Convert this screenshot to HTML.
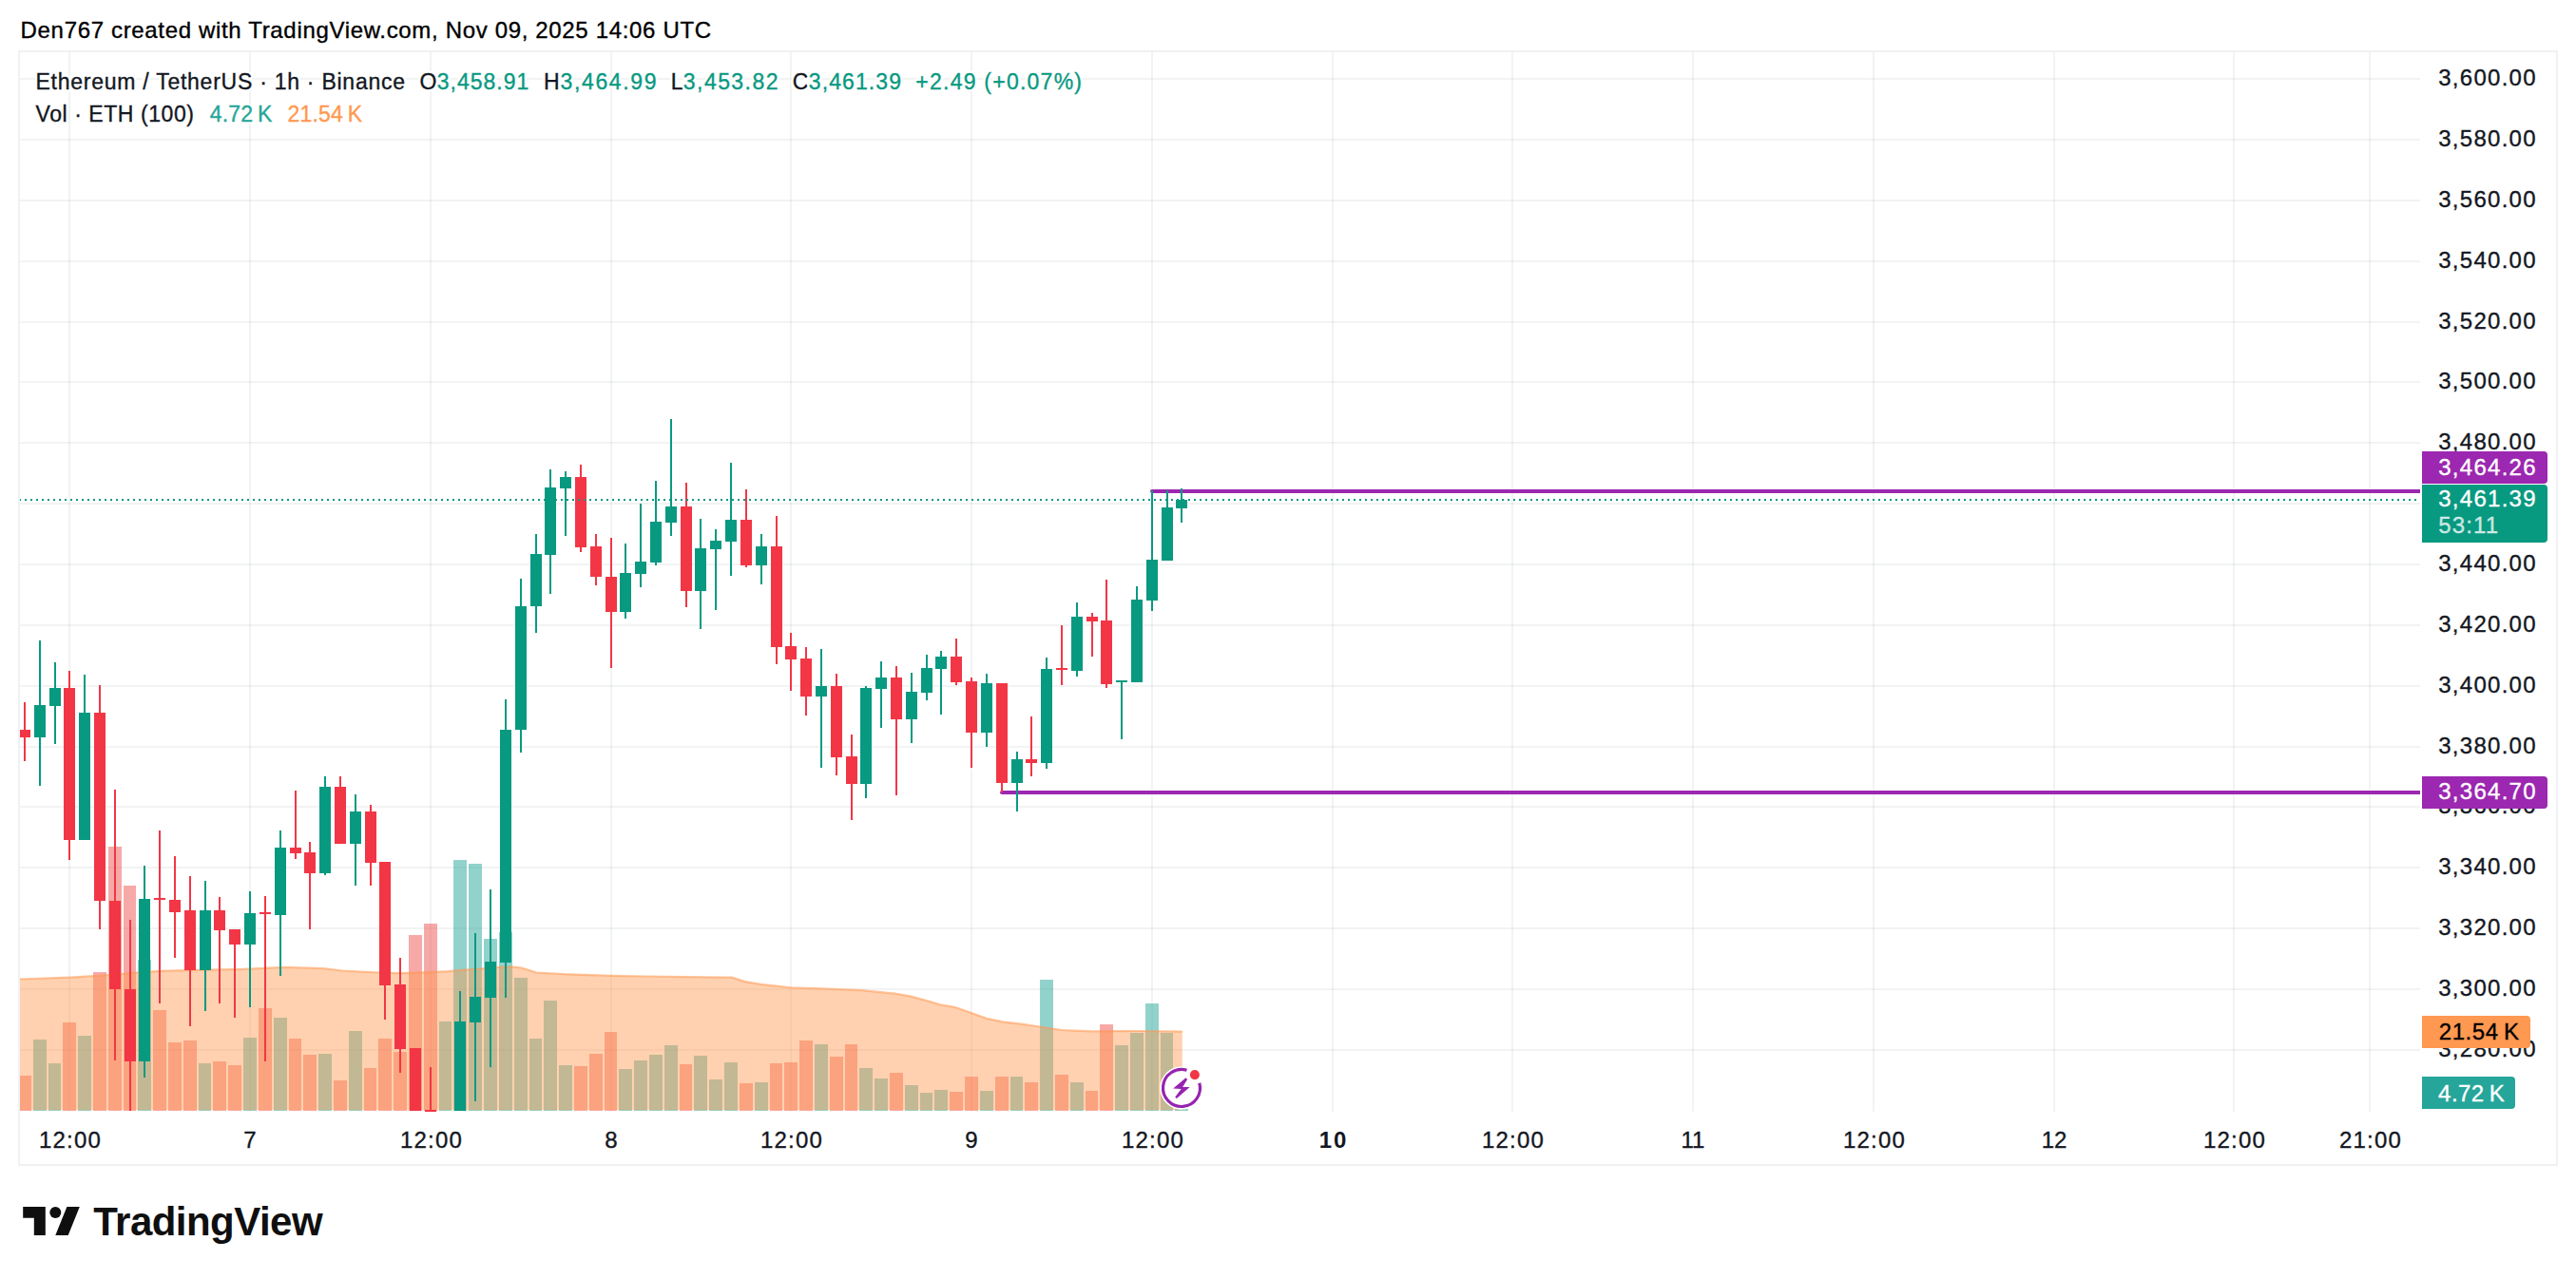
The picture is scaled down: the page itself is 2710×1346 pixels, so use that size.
<!DOCTYPE html>
<html lang="en"><head><meta charset="utf-8"><title>ETHUSDT chart</title>
<style>html,body{margin:0;padding:0;background:#fff}body{width:2710px;height:1346px}svg{display:block}</style>
</head><body>
<svg width="2710" height="1346" viewBox="0 0 2710 1346" font-family="'Liberation Sans', sans-serif">
<rect width="2710" height="1346" fill="#fff"/>
<g id="grid" fill="rgba(42,46,57,0.06)">
<rect x="21" y="82" width="2525" height="2"/>
<rect x="21" y="146" width="2525" height="2"/>
<rect x="21" y="210" width="2525" height="2"/>
<rect x="21" y="274" width="2525" height="2"/>
<rect x="21" y="338" width="2525" height="2"/>
<rect x="21" y="401" width="2525" height="2"/>
<rect x="21" y="465" width="2525" height="2"/>
<rect x="21" y="529" width="2525" height="2"/>
<rect x="21" y="593" width="2525" height="2"/>
<rect x="21" y="657" width="2525" height="2"/>
<rect x="21" y="721" width="2525" height="2"/>
<rect x="21" y="785" width="2525" height="2"/>
<rect x="21" y="848" width="2525" height="2"/>
<rect x="21" y="912" width="2525" height="2"/>
<rect x="21" y="976" width="2525" height="2"/>
<rect x="21" y="1040" width="2525" height="2"/>
<rect x="21" y="1104" width="2525" height="2"/>
<rect x="72" y="55" width="2" height="1115"/>
<rect x="262" y="55" width="2" height="1115"/>
<rect x="452" y="55" width="2" height="1115"/>
<rect x="642" y="55" width="2" height="1115"/>
<rect x="831" y="55" width="2" height="1115"/>
<rect x="1021" y="55" width="2" height="1115"/>
<rect x="1211" y="55" width="2" height="1115"/>
<rect x="1401" y="55" width="2" height="1115"/>
<rect x="1590" y="55" width="2" height="1115"/>
<rect x="1780" y="55" width="2" height="1115"/>
<rect x="1970" y="55" width="2" height="1115"/>
<rect x="2160" y="55" width="2" height="1115"/>
<rect x="2349" y="55" width="2" height="1115"/>
<rect x="2492" y="55" width="2" height="1115"/>
</g>
<g id="vol">
<rect x="21" y="1132" width="12" height="37" fill="rgba(239,83,80,0.5)"/>
<rect x="35" y="1094" width="14" height="75" fill="rgba(38,166,154,0.5)"/>
<rect x="51" y="1119" width="13" height="50" fill="rgba(38,166,154,0.5)"/>
<rect x="66" y="1076" width="14" height="93" fill="rgba(239,83,80,0.5)"/>
<rect x="82" y="1090" width="14" height="79" fill="rgba(38,166,154,0.5)"/>
<rect x="98" y="1023" width="14" height="146" fill="rgba(239,83,80,0.5)"/>
<rect x="114" y="891" width="14" height="278" fill="rgba(239,83,80,0.5)"/>
<rect x="130" y="932" width="13" height="237" fill="rgba(239,83,80,0.5)"/>
<rect x="145" y="1010" width="14" height="159" fill="rgba(38,166,154,0.5)"/>
<rect x="161" y="1063" width="14" height="106" fill="rgba(239,83,80,0.5)"/>
<rect x="177" y="1097" width="14" height="72" fill="rgba(239,83,80,0.5)"/>
<rect x="193" y="1095" width="14" height="74" fill="rgba(239,83,80,0.5)"/>
<rect x="209" y="1119" width="13" height="50" fill="rgba(38,166,154,0.5)"/>
<rect x="224" y="1117" width="14" height="52" fill="rgba(239,83,80,0.5)"/>
<rect x="240" y="1121" width="14" height="48" fill="rgba(239,83,80,0.5)"/>
<rect x="256" y="1092" width="14" height="77" fill="rgba(38,166,154,0.5)"/>
<rect x="272" y="1061" width="14" height="108" fill="rgba(239,83,80,0.5)"/>
<rect x="288" y="1071" width="14" height="98" fill="rgba(38,166,154,0.5)"/>
<rect x="304" y="1093" width="13" height="76" fill="rgba(239,83,80,0.5)"/>
<rect x="319" y="1110" width="14" height="59" fill="rgba(239,83,80,0.5)"/>
<rect x="335" y="1109" width="14" height="60" fill="rgba(38,166,154,0.5)"/>
<rect x="351" y="1137" width="14" height="32" fill="rgba(239,83,80,0.5)"/>
<rect x="367" y="1085" width="14" height="84" fill="rgba(38,166,154,0.5)"/>
<rect x="383" y="1124" width="13" height="45" fill="rgba(239,83,80,0.5)"/>
<rect x="398" y="1093" width="14" height="76" fill="rgba(239,83,80,0.5)"/>
<rect x="414" y="1107" width="14" height="62" fill="rgba(239,83,80,0.5)"/>
<rect x="430" y="984" width="14" height="185" fill="rgba(239,83,80,0.5)"/>
<rect x="446" y="972" width="14" height="197" fill="rgba(239,83,80,0.5)"/>
<rect x="462" y="1075" width="13" height="94" fill="rgba(38,166,154,0.5)"/>
<rect x="477" y="905" width="14" height="264" fill="rgba(38,166,154,0.5)"/>
<rect x="493" y="909" width="14" height="260" fill="rgba(38,166,154,0.5)"/>
<rect x="509" y="988" width="14" height="181" fill="rgba(38,166,154,0.5)"/>
<rect x="525" y="981" width="14" height="188" fill="rgba(38,166,154,0.5)"/>
<rect x="541" y="1029" width="14" height="140" fill="rgba(38,166,154,0.5)"/>
<rect x="557" y="1093" width="13" height="76" fill="rgba(38,166,154,0.5)"/>
<rect x="572" y="1053" width="14" height="116" fill="rgba(38,166,154,0.5)"/>
<rect x="588" y="1121" width="14" height="48" fill="rgba(38,166,154,0.5)"/>
<rect x="604" y="1122" width="14" height="47" fill="rgba(239,83,80,0.5)"/>
<rect x="620" y="1109" width="14" height="60" fill="rgba(239,83,80,0.5)"/>
<rect x="636" y="1086" width="13" height="83" fill="rgba(239,83,80,0.5)"/>
<rect x="651" y="1125" width="14" height="44" fill="rgba(38,166,154,0.5)"/>
<rect x="667" y="1116" width="14" height="53" fill="rgba(38,166,154,0.5)"/>
<rect x="683" y="1110" width="14" height="59" fill="rgba(38,166,154,0.5)"/>
<rect x="699" y="1100" width="14" height="69" fill="rgba(38,166,154,0.5)"/>
<rect x="715" y="1120" width="13" height="49" fill="rgba(239,83,80,0.5)"/>
<rect x="730" y="1111" width="14" height="58" fill="rgba(38,166,154,0.5)"/>
<rect x="746" y="1136" width="14" height="33" fill="rgba(38,166,154,0.5)"/>
<rect x="762" y="1118" width="14" height="51" fill="rgba(38,166,154,0.5)"/>
<rect x="778" y="1140" width="14" height="29" fill="rgba(239,83,80,0.5)"/>
<rect x="794" y="1139" width="14" height="30" fill="rgba(38,166,154,0.5)"/>
<rect x="810" y="1119" width="13" height="50" fill="rgba(239,83,80,0.5)"/>
<rect x="825" y="1118" width="14" height="51" fill="rgba(239,83,80,0.5)"/>
<rect x="841" y="1095" width="14" height="74" fill="rgba(239,83,80,0.5)"/>
<rect x="857" y="1099" width="14" height="70" fill="rgba(38,166,154,0.5)"/>
<rect x="873" y="1112" width="14" height="57" fill="rgba(239,83,80,0.5)"/>
<rect x="889" y="1099" width="13" height="70" fill="rgba(239,83,80,0.5)"/>
<rect x="904" y="1124" width="14" height="45" fill="rgba(38,166,154,0.5)"/>
<rect x="920" y="1135" width="14" height="34" fill="rgba(38,166,154,0.5)"/>
<rect x="936" y="1129" width="14" height="40" fill="rgba(239,83,80,0.5)"/>
<rect x="952" y="1142" width="14" height="27" fill="rgba(38,166,154,0.5)"/>
<rect x="968" y="1150" width="13" height="19" fill="rgba(38,166,154,0.5)"/>
<rect x="983" y="1147" width="14" height="22" fill="rgba(38,166,154,0.5)"/>
<rect x="999" y="1149" width="14" height="20" fill="rgba(239,83,80,0.5)"/>
<rect x="1015" y="1133" width="14" height="36" fill="rgba(239,83,80,0.5)"/>
<rect x="1031" y="1148" width="14" height="21" fill="rgba(38,166,154,0.5)"/>
<rect x="1047" y="1133" width="14" height="36" fill="rgba(239,83,80,0.5)"/>
<rect x="1063" y="1133" width="13" height="36" fill="rgba(38,166,154,0.5)"/>
<rect x="1078" y="1139" width="14" height="30" fill="rgba(239,83,80,0.5)"/>
<rect x="1094" y="1031" width="14" height="138" fill="rgba(38,166,154,0.5)"/>
<rect x="1110" y="1131" width="14" height="38" fill="rgba(239,83,80,0.5)"/>
<rect x="1126" y="1139" width="14" height="30" fill="rgba(38,166,154,0.5)"/>
<rect x="1142" y="1148" width="13" height="21" fill="rgba(239,83,80,0.5)"/>
<rect x="1157" y="1078" width="14" height="91" fill="rgba(239,83,80,0.5)"/>
<rect x="1173" y="1100" width="14" height="69" fill="rgba(38,166,154,0.5)"/>
<rect x="1189" y="1087" width="14" height="82" fill="rgba(38,166,154,0.5)"/>
<rect x="1205" y="1056" width="14" height="113" fill="rgba(38,166,154,0.5)"/>
<rect x="1221" y="1087" width="13" height="82" fill="rgba(38,166,154,0.5)"/>
<rect x="1236" y="1167" width="14" height="2" fill="rgba(38,166,154,0.5)"/>
</g>
<polygon points="20.0,1030.5 73.4,1028.6 107.0,1026.7 144.0,1023.6 169.0,1021.8 206.0,1020.8 256.0,1019.9 299.5,1017.9 340.0,1019.2 359.8,1021.5 379.6,1022.7 399.4,1023.5 419.2,1024.2 432.4,1023.8 452.2,1023.1 472.0,1022.2 485.2,1020.9 505.0,1019.5 524.8,1017.8 538.0,1017.4 548.6,1018.5 564.4,1023.5 597.4,1025.3 643.6,1026.8 680.0,1027.5 769.8,1028.6 783.8,1033.1 800.7,1035.9 832.0,1039.4 864.0,1040.4 882.3,1041.2 906.3,1042.2 941.5,1045.7 958.3,1048.6 976.6,1053.5 990.7,1057.7 1005.5,1060.2 1022.0,1066.1 1037.8,1071.8 1054.7,1075.3 1074.4,1077.7 1094.0,1080.5 1116.7,1084.0 1130.7,1084.7 1149.0,1085.4 1173.0,1085.1 1201.0,1085.0 1243.8,1085.6 1243.8,1168.3 21,1168.3" fill="rgba(255,152,80,0.45)"/>
<polyline points="20.0,1030.5 73.4,1028.6 107.0,1026.7 144.0,1023.6 169.0,1021.8 206.0,1020.8 256.0,1019.9 299.5,1017.9 340.0,1019.2 359.8,1021.5 379.6,1022.7 399.4,1023.5 419.2,1024.2 432.4,1023.8 452.2,1023.1 472.0,1022.2 485.2,1020.9 505.0,1019.5 524.8,1017.8 538.0,1017.4 548.6,1018.5 564.4,1023.5 597.4,1025.3 643.6,1026.8 680.0,1027.5 769.8,1028.6 783.8,1033.1 800.7,1035.9 832.0,1039.4 864.0,1040.4 882.3,1041.2 906.3,1042.2 941.5,1045.7 958.3,1048.6 976.6,1053.5 990.7,1057.7 1005.5,1060.2 1022.0,1066.1 1037.8,1071.8 1054.7,1075.3 1074.4,1077.7 1094.0,1080.5 1116.7,1084.0 1130.7,1084.7 1149.0,1085.4 1173.0,1085.1 1201.0,1085.0 1243.8,1085.6" fill="none" stroke="rgba(255,152,80,0.55)" stroke-width="2.2" stroke-linejoin="round"/>
<path d="M1212 515 H2546 V519 H1212 A2 2 0 0 1 1212 515 Z" fill="#9c27b0"/>
<path d="M1054 832 H2546 V836 H1054 A2 2 0 0 1 1054 832 Z" fill="#9c27b0"/>
<g id="candles">
<rect x="25.0" y="739.0" width="2" height="62.0" fill="#f23645"/>
<rect x="21.0" y="768.0" width="11.0" height="8.0" fill="#f23645"/>
<rect x="41.0" y="674.0" width="2" height="153.0" fill="#089981"/>
<rect x="36.0" y="742.0" width="12.0" height="34.0" fill="#089981"/>
<rect x="57.0" y="697.0" width="2" height="86.0" fill="#089981"/>
<rect x="52.0" y="724.0" width="12.0" height="19.0" fill="#089981"/>
<rect x="72.0" y="706.0" width="2" height="199.0" fill="#f23645"/>
<rect x="67.0" y="724.0" width="12.0" height="160.0" fill="#f23645"/>
<rect x="88.0" y="710.0" width="2" height="174.0" fill="#089981"/>
<rect x="83.0" y="750.0" width="12.0" height="134.0" fill="#089981"/>
<rect x="104.0" y="721.0" width="2" height="257.0" fill="#f23645"/>
<rect x="99.0" y="750.0" width="12.0" height="198.0" fill="#f23645"/>
<rect x="120.0" y="831.0" width="2" height="285.0" fill="#f23645"/>
<rect x="115.0" y="948.0" width="12.0" height="93.0" fill="#f23645"/>
<rect x="136.0" y="968.0" width="2" height="201.0" fill="#f23645"/>
<rect x="131.0" y="1041.0" width="12.0" height="76.0" fill="#f23645"/>
<rect x="151.0" y="911.0" width="2" height="223.0" fill="#089981"/>
<rect x="146.0" y="946.0" width="12.0" height="171.0" fill="#089981"/>
<rect x="167.0" y="874.0" width="2" height="182.0" fill="#f23645"/>
<rect x="162.0" y="945.0" width="12.0" height="2.0" fill="#f23645"/>
<rect x="183.0" y="901.0" width="2" height="107.0" fill="#f23645"/>
<rect x="178.0" y="947.0" width="12.0" height="13.0" fill="#f23645"/>
<rect x="199.0" y="922.0" width="2" height="158.0" fill="#f23645"/>
<rect x="194.0" y="958.0" width="12.0" height="63.0" fill="#f23645"/>
<rect x="215.0" y="927.0" width="2" height="137.0" fill="#089981"/>
<rect x="210.0" y="958.0" width="12.0" height="63.0" fill="#089981"/>
<rect x="230.0" y="944.0" width="2" height="112.0" fill="#f23645"/>
<rect x="225.0" y="958.0" width="12.0" height="21.0" fill="#f23645"/>
<rect x="246.0" y="978.0" width="2" height="93.0" fill="#f23645"/>
<rect x="241.0" y="978.0" width="12.0" height="16.0" fill="#f23645"/>
<rect x="262.0" y="938.0" width="2" height="122.0" fill="#089981"/>
<rect x="257.0" y="961.0" width="12.0" height="33.0" fill="#089981"/>
<rect x="278.0" y="943.0" width="2" height="174.0" fill="#f23645"/>
<rect x="273.0" y="960.0" width="12.0" height="2.0" fill="#f23645"/>
<rect x="294.0" y="874.0" width="2" height="153.0" fill="#089981"/>
<rect x="289.0" y="892.0" width="12.0" height="71.0" fill="#089981"/>
<rect x="310.0" y="832.0" width="2" height="72.0" fill="#f23645"/>
<rect x="305.0" y="892.0" width="12.0" height="6.0" fill="#f23645"/>
<rect x="325.0" y="886.0" width="2" height="92.0" fill="#f23645"/>
<rect x="320.0" y="897.0" width="12.0" height="22.0" fill="#f23645"/>
<rect x="341.0" y="817.0" width="2" height="104.0" fill="#089981"/>
<rect x="336.0" y="828.0" width="12.0" height="91.0" fill="#089981"/>
<rect x="357.0" y="817.0" width="2" height="71.0" fill="#f23645"/>
<rect x="352.0" y="828.0" width="12.0" height="60.0" fill="#f23645"/>
<rect x="373.0" y="836.0" width="2" height="96.0" fill="#089981"/>
<rect x="368.0" y="854.0" width="12.0" height="34.0" fill="#089981"/>
<rect x="389.0" y="847.0" width="2" height="85.0" fill="#f23645"/>
<rect x="384.0" y="854.0" width="12.0" height="54.0" fill="#f23645"/>
<rect x="404.0" y="907.0" width="2" height="166.0" fill="#f23645"/>
<rect x="399.0" y="907.0" width="12.0" height="130.0" fill="#f23645"/>
<rect x="420.0" y="1008.0" width="2" height="121.0" fill="#f23645"/>
<rect x="415.0" y="1036.0" width="12.0" height="68.0" fill="#f23645"/>
<rect x="436.0" y="1103.0" width="2" height="66.0" fill="#f23645"/>
<rect x="431.0" y="1103.0" width="12.0" height="66.0" fill="#f23645"/>
<rect x="452.0" y="1123.0" width="2" height="47.0" fill="#f23645"/>
<rect x="447.0" y="1168.0" width="12.0" height="2.0" fill="#f23645"/>
<rect x="483.0" y="1043.0" width="2" height="126.0" fill="#089981"/>
<rect x="478.0" y="1075.0" width="12.0" height="94.0" fill="#089981"/>
<rect x="499.0" y="982.0" width="2" height="177.0" fill="#089981"/>
<rect x="494.0" y="1049.0" width="12.0" height="27.0" fill="#089981"/>
<rect x="515.0" y="936.0" width="2" height="187.0" fill="#089981"/>
<rect x="510.0" y="1012.0" width="12.0" height="38.0" fill="#089981"/>
<rect x="531.0" y="736.0" width="2" height="314.0" fill="#089981"/>
<rect x="526.0" y="768.0" width="12.0" height="245.0" fill="#089981"/>
<rect x="547.0" y="609.0" width="2" height="183.0" fill="#089981"/>
<rect x="542.0" y="638.0" width="12.0" height="130.0" fill="#089981"/>
<rect x="563.0" y="562.0" width="2" height="104.0" fill="#089981"/>
<rect x="558.0" y="583.0" width="12.0" height="55.0" fill="#089981"/>
<rect x="578.0" y="494.0" width="2" height="131.0" fill="#089981"/>
<rect x="573.0" y="513.0" width="12.0" height="71.0" fill="#089981"/>
<rect x="594.0" y="496.0" width="2" height="68.0" fill="#089981"/>
<rect x="589.0" y="502.0" width="12.0" height="12.0" fill="#089981"/>
<rect x="610.0" y="489.0" width="2" height="92.0" fill="#f23645"/>
<rect x="605.0" y="502.0" width="12.0" height="74.0" fill="#f23645"/>
<rect x="626.0" y="562.0" width="2" height="54.0" fill="#f23645"/>
<rect x="621.0" y="575.0" width="12.0" height="32.0" fill="#f23645"/>
<rect x="642.0" y="566.0" width="2" height="137.0" fill="#f23645"/>
<rect x="637.0" y="607.0" width="12.0" height="37.0" fill="#f23645"/>
<rect x="657.0" y="572.0" width="2" height="79.0" fill="#089981"/>
<rect x="652.0" y="603.0" width="12.0" height="41.0" fill="#089981"/>
<rect x="673.0" y="530.0" width="2" height="88.0" fill="#089981"/>
<rect x="668.0" y="591.0" width="12.0" height="13.0" fill="#089981"/>
<rect x="689.0" y="506.0" width="2" height="89.0" fill="#089981"/>
<rect x="684.0" y="549.0" width="12.0" height="43.0" fill="#089981"/>
<rect x="705.0" y="441.0" width="2" height="123.0" fill="#089981"/>
<rect x="700.0" y="533.0" width="12.0" height="17.0" fill="#089981"/>
<rect x="721.0" y="508.0" width="2" height="131.0" fill="#f23645"/>
<rect x="716.0" y="533.0" width="12.0" height="89.0" fill="#f23645"/>
<rect x="736.0" y="546.0" width="2" height="116.0" fill="#089981"/>
<rect x="731.0" y="577.0" width="12.0" height="45.0" fill="#089981"/>
<rect x="752.0" y="557.0" width="2" height="85.0" fill="#089981"/>
<rect x="747.0" y="569.0" width="12.0" height="9.0" fill="#089981"/>
<rect x="768.0" y="487.0" width="2" height="119.0" fill="#089981"/>
<rect x="763.0" y="547.0" width="12.0" height="23.0" fill="#089981"/>
<rect x="784.0" y="515.0" width="2" height="82.0" fill="#f23645"/>
<rect x="779.0" y="547.0" width="12.0" height="48.0" fill="#f23645"/>
<rect x="800.0" y="562.0" width="2" height="53.0" fill="#089981"/>
<rect x="795.0" y="575.0" width="12.0" height="20.0" fill="#089981"/>
<rect x="816.0" y="543.0" width="2" height="156.0" fill="#f23645"/>
<rect x="811.0" y="575.0" width="12.0" height="106.0" fill="#f23645"/>
<rect x="831.0" y="666.0" width="2" height="61.0" fill="#f23645"/>
<rect x="826.0" y="680.0" width="12.0" height="14.0" fill="#f23645"/>
<rect x="847.0" y="681.0" width="2" height="72.0" fill="#f23645"/>
<rect x="842.0" y="693.0" width="12.0" height="40.0" fill="#f23645"/>
<rect x="863.0" y="683.0" width="2" height="125.0" fill="#089981"/>
<rect x="858.0" y="722.0" width="12.0" height="11.0" fill="#089981"/>
<rect x="879.0" y="709.0" width="2" height="107.0" fill="#f23645"/>
<rect x="874.0" y="722.0" width="12.0" height="75.0" fill="#f23645"/>
<rect x="895.0" y="773.0" width="2" height="90.0" fill="#f23645"/>
<rect x="890.0" y="796.0" width="12.0" height="29.0" fill="#f23645"/>
<rect x="910.0" y="722.0" width="2" height="118.0" fill="#089981"/>
<rect x="905.0" y="724.0" width="12.0" height="101.0" fill="#089981"/>
<rect x="926.0" y="696.0" width="2" height="70.0" fill="#089981"/>
<rect x="921.0" y="713.0" width="12.0" height="12.0" fill="#089981"/>
<rect x="942.0" y="701.0" width="2" height="136.0" fill="#f23645"/>
<rect x="937.0" y="713.0" width="12.0" height="44.0" fill="#f23645"/>
<rect x="958.0" y="708.0" width="2" height="74.0" fill="#089981"/>
<rect x="953.0" y="728.0" width="12.0" height="29.0" fill="#089981"/>
<rect x="974.0" y="689.0" width="2" height="48.0" fill="#089981"/>
<rect x="969.0" y="703.0" width="12.0" height="26.0" fill="#089981"/>
<rect x="989.0" y="685.0" width="2" height="67.0" fill="#089981"/>
<rect x="984.0" y="691.0" width="12.0" height="13.0" fill="#089981"/>
<rect x="1005.0" y="672.0" width="2" height="49.0" fill="#f23645"/>
<rect x="1000.0" y="691.0" width="12.0" height="27.0" fill="#f23645"/>
<rect x="1021.0" y="713.0" width="2" height="95.0" fill="#f23645"/>
<rect x="1016.0" y="717.0" width="12.0" height="54.0" fill="#f23645"/>
<rect x="1037.0" y="709.0" width="2" height="77.0" fill="#089981"/>
<rect x="1032.0" y="719.0" width="12.0" height="52.0" fill="#089981"/>
<rect x="1053.0" y="719.0" width="2" height="115.0" fill="#f23645"/>
<rect x="1048.0" y="719.0" width="12.0" height="105.0" fill="#f23645"/>
<rect x="1069.0" y="791.0" width="2" height="63.0" fill="#089981"/>
<rect x="1064.0" y="799.0" width="12.0" height="25.0" fill="#089981"/>
<rect x="1084.0" y="754.0" width="2" height="63.0" fill="#f23645"/>
<rect x="1079.0" y="799.0" width="12.0" height="4.0" fill="#f23645"/>
<rect x="1100.0" y="692.0" width="2" height="117.0" fill="#089981"/>
<rect x="1095.0" y="704.0" width="12.0" height="99.0" fill="#089981"/>
<rect x="1116.0" y="658.0" width="2" height="63.0" fill="#f23645"/>
<rect x="1111.0" y="703.0" width="12.0" height="2.0" fill="#f23645"/>
<rect x="1132.0" y="634.0" width="2" height="78.0" fill="#089981"/>
<rect x="1127.0" y="649.0" width="12.0" height="57.0" fill="#089981"/>
<rect x="1148.0" y="645.0" width="2" height="46.0" fill="#f23645"/>
<rect x="1143.0" y="649.0" width="12.0" height="5.0" fill="#f23645"/>
<rect x="1163.0" y="610.0" width="2" height="114.0" fill="#f23645"/>
<rect x="1158.0" y="653.0" width="12.0" height="67.0" fill="#f23645"/>
<rect x="1179.0" y="716.0" width="2" height="62.0" fill="#089981"/>
<rect x="1174.0" y="716.0" width="12.0" height="2.0" fill="#089981"/>
<rect x="1195.0" y="617.0" width="2" height="101.0" fill="#089981"/>
<rect x="1190.0" y="631.0" width="12.0" height="87.0" fill="#089981"/>
<rect x="1211.0" y="516.0" width="2" height="127.0" fill="#089981"/>
<rect x="1206.0" y="589.0" width="12.0" height="43.0" fill="#089981"/>
<rect x="1227.0" y="516.0" width="2" height="74.0" fill="#089981"/>
<rect x="1222.0" y="534.0" width="12.0" height="56.0" fill="#089981"/>
<rect x="1242.0" y="514.0" width="2" height="36.0" fill="#089981"/>
<rect x="1237.0" y="526.0" width="12.0" height="9.0" fill="#089981"/>
</g>
<line x1="20" y1="526" x2="2546" y2="526" stroke="#089981" stroke-width="2" stroke-dasharray="2 4"/>
<g id="flash">
<circle cx="1243" cy="1145" r="22.7" fill="#fff"/>
<path d="M1248.54 1126.30 A19.5 19.5 0 1 0 1261.79 1139.79" fill="none" stroke="#9624b0" stroke-width="3.2"/>
<circle cx="1256.9" cy="1131.1" r="8.3" fill="#fff"/>
<path d="M1247.5 1134.3 L1234.2 1145.5 L1242.7 1145.9 L1236.2 1154.5 L1237.9 1156 L1251.7 1144.1 L1244.1 1144 L1249.1 1135.9 Z" fill="#9624b0"/>
<circle cx="1256.9" cy="1131.1" r="5.05" fill="#f23645"/>
</g>
<rect x="20" y="54" width="2670" height="1172" fill="none" stroke="#f0f1f2" stroke-width="2"/>
<text x="21.6" y="40.0" font-size="24" fill="#000" textLength="726.5" lengthAdjust="spacing" stroke="#000" stroke-width="0.35">Den767 created with TradingView.com, Nov 09, 2025 14:06 UTC</text>
<use href="#lg1" fill="#fff" stroke="#fff" stroke-width="5" stroke-linejoin="round"/>
<g fill="#131722" stroke="#131722" stroke-width="0.35"><text id="lg1" x="37.5" y="94.0" font-size="23" textLength="388.5" lengthAdjust="spacing">Ethereum / TetherUS · 1h · Binance</text></g>
<use href="#lg2" fill="#fff" stroke="#fff" stroke-width="5" stroke-linejoin="round"/>
<g fill="#131722" stroke="#131722" stroke-width="0.35"><text id="lg2" x="441.6" y="94.0" font-size="23" textLength="17.5" lengthAdjust="spacing">O</text></g>
<use href="#lg3" fill="#fff" stroke="#fff" stroke-width="5" stroke-linejoin="round"/>
<g fill="#089981" stroke="#089981" stroke-width="0.35"><text id="lg3" x="459.8" y="94.0" font-size="23" textLength="96.5" lengthAdjust="spacing">3,458.91</text></g>
<use href="#lg4" fill="#fff" stroke="#fff" stroke-width="5" stroke-linejoin="round"/>
<g fill="#131722" stroke="#131722" stroke-width="0.35"><text id="lg4" x="572.0" y="94.0" font-size="23" textLength="16.5" lengthAdjust="spacing">H</text></g>
<use href="#lg5" fill="#fff" stroke="#fff" stroke-width="5" stroke-linejoin="round"/>
<g fill="#089981" stroke="#089981" stroke-width="0.35"><text id="lg5" x="589.5" y="94.0" font-size="23" textLength="101.0" lengthAdjust="spacing">3,464.99</text></g>
<use href="#lg6" fill="#fff" stroke="#fff" stroke-width="5" stroke-linejoin="round"/>
<g fill="#131722" stroke="#131722" stroke-width="0.35"><text id="lg6" x="705.7" y="94.0" font-size="23">L</text></g>
<use href="#lg7" fill="#fff" stroke="#fff" stroke-width="5" stroke-linejoin="round"/>
<g fill="#089981" stroke="#089981" stroke-width="0.35"><text id="lg7" x="718.8" y="94.0" font-size="23" textLength="99.7" lengthAdjust="spacing">3,453.82</text></g>
<use href="#lg8" fill="#fff" stroke="#fff" stroke-width="5" stroke-linejoin="round"/>
<g fill="#131722" stroke="#131722" stroke-width="0.35"><text id="lg8" x="833.8" y="94.0" font-size="23">C</text></g>
<use href="#lg9" fill="#fff" stroke="#fff" stroke-width="5" stroke-linejoin="round"/>
<g fill="#089981" stroke="#089981" stroke-width="0.35"><text id="lg9" x="850.8" y="94.0" font-size="23" textLength="97.2" lengthAdjust="spacing">3,461.39</text></g>
<use href="#lg10" fill="#fff" stroke="#fff" stroke-width="5" stroke-linejoin="round"/>
<g fill="#089981" stroke="#089981" stroke-width="0.35"><text id="lg10" x="963.3" y="94.0" font-size="23" textLength="174.7" lengthAdjust="spacing">+2.49 (+0.07%)</text></g>
<use href="#lg11" fill="#fff" stroke="#fff" stroke-width="5" stroke-linejoin="round"/>
<g fill="#131722" stroke="#131722" stroke-width="0.35"><text id="lg11" x="37.5" y="127.6" font-size="23" textLength="166.5" lengthAdjust="spacing">Vol · ETH (100)</text></g>
<use href="#lg12" fill="#fff" stroke="#fff" stroke-width="5" stroke-linejoin="round"/>
<g fill="#26a69a" stroke="#26a69a" stroke-width="0.35"><text id="lg12" x="220.8" y="127.6" font-size="23" textLength="65.5" lengthAdjust="spacing">4.72 K</text></g>
<use href="#lg13" fill="#fff" stroke="#fff" stroke-width="5" stroke-linejoin="round"/>
<g fill="#ff9850" stroke="#ff9850" stroke-width="0.35"><text id="lg13" x="302.6" y="127.6" font-size="23" textLength="78.5" lengthAdjust="spacing">21.54 K</text></g>
<text x="2565.2" y="90.1" font-size="24" fill="#131722" textLength="102.4" lengthAdjust="spacing" stroke="#131722" stroke-width="0.35">3,600.00</text>
<text x="2565.2" y="154.1" font-size="24" fill="#131722" textLength="102.4" lengthAdjust="spacing" stroke="#131722" stroke-width="0.35">3,580.00</text>
<text x="2565.2" y="218.1" font-size="24" fill="#131722" textLength="102.4" lengthAdjust="spacing" stroke="#131722" stroke-width="0.35">3,560.00</text>
<text x="2565.2" y="282.1" font-size="24" fill="#131722" textLength="102.4" lengthAdjust="spacing" stroke="#131722" stroke-width="0.35">3,540.00</text>
<text x="2565.2" y="346.1" font-size="24" fill="#131722" textLength="102.4" lengthAdjust="spacing" stroke="#131722" stroke-width="0.35">3,520.00</text>
<text x="2565.2" y="409.1" font-size="24" fill="#131722" textLength="102.4" lengthAdjust="spacing" stroke="#131722" stroke-width="0.35">3,500.00</text>
<text x="2565.2" y="473.1" font-size="24" fill="#131722" textLength="102.4" lengthAdjust="spacing" stroke="#131722" stroke-width="0.35">3,480.00</text>
<text x="2565.2" y="601.1" font-size="24" fill="#131722" textLength="102.4" lengthAdjust="spacing" stroke="#131722" stroke-width="0.35">3,440.00</text>
<text x="2565.2" y="665.1" font-size="24" fill="#131722" textLength="102.4" lengthAdjust="spacing" stroke="#131722" stroke-width="0.35">3,420.00</text>
<text x="2565.2" y="729.1" font-size="24" fill="#131722" textLength="102.4" lengthAdjust="spacing" stroke="#131722" stroke-width="0.35">3,400.00</text>
<text x="2565.2" y="793.1" font-size="24" fill="#131722" textLength="102.4" lengthAdjust="spacing" stroke="#131722" stroke-width="0.35">3,380.00</text>
<text x="2565.2" y="856.1" font-size="24" fill="#131722" textLength="102.4" lengthAdjust="spacing" stroke="#131722" stroke-width="0.35">3,360.00</text>
<text x="2565.2" y="920.1" font-size="24" fill="#131722" textLength="102.4" lengthAdjust="spacing" stroke="#131722" stroke-width="0.35">3,340.00</text>
<text x="2565.2" y="984.1" font-size="24" fill="#131722" textLength="102.4" lengthAdjust="spacing" stroke="#131722" stroke-width="0.35">3,320.00</text>
<text x="2565.2" y="1048.1" font-size="24" fill="#131722" textLength="102.4" lengthAdjust="spacing" stroke="#131722" stroke-width="0.35">3,300.00</text>
<text x="2565.2" y="1112.1" font-size="24" fill="#131722" textLength="102.4" lengthAdjust="spacing" stroke="#131722" stroke-width="0.35">3,280.00</text>
<text x="73.4" y="1208.4" font-size="24" fill="#131722" text-anchor="middle" textLength="65.0" lengthAdjust="spacing" stroke="#131722" stroke-width="0.35">12:00</text>
<text x="263.0" y="1208.4" font-size="24" fill="#131722" text-anchor="middle" stroke="#131722" stroke-width="0.35">7</text>
<text x="453.4" y="1208.4" font-size="24" fill="#131722" text-anchor="middle" textLength="65.0" lengthAdjust="spacing" stroke="#131722" stroke-width="0.35">12:00</text>
<text x="643.0" y="1208.4" font-size="24" fill="#131722" text-anchor="middle" stroke="#131722" stroke-width="0.35">8</text>
<text x="832.4" y="1208.4" font-size="24" fill="#131722" text-anchor="middle" textLength="65.0" lengthAdjust="spacing" stroke="#131722" stroke-width="0.35">12:00</text>
<text x="1022.0" y="1208.4" font-size="24" fill="#131722" text-anchor="middle" stroke="#131722" stroke-width="0.35">9</text>
<text x="1212.4" y="1208.4" font-size="24" fill="#131722" text-anchor="middle" textLength="65.0" lengthAdjust="spacing" stroke="#131722" stroke-width="0.35">12:00</text>
<text x="1402.0" y="1208.4" font-size="24" fill="#131722" text-anchor="middle" textLength="28.5" lengthAdjust="spacing" font-weight="bold">10</text>
<text x="1591.4" y="1208.4" font-size="24" fill="#131722" text-anchor="middle" textLength="65.0" lengthAdjust="spacing" stroke="#131722" stroke-width="0.35">12:00</text>
<text x="1781.0" y="1208.4" font-size="24" fill="#131722" text-anchor="middle" stroke="#131722" stroke-width="0.35">11</text>
<text x="1971.4" y="1208.4" font-size="24" fill="#131722" text-anchor="middle" textLength="65.0" lengthAdjust="spacing" stroke="#131722" stroke-width="0.35">12:00</text>
<text x="2161.0" y="1208.4" font-size="24" fill="#131722" text-anchor="middle" stroke="#131722" stroke-width="0.35">12</text>
<text x="2350.4" y="1208.4" font-size="24" fill="#131722" text-anchor="middle" textLength="65.0" lengthAdjust="spacing" stroke="#131722" stroke-width="0.35">12:00</text>
<text x="2493.4" y="1208.4" font-size="24" fill="#131722" text-anchor="middle" textLength="65.0" lengthAdjust="spacing" stroke="#131722" stroke-width="0.35">21:00</text>
<path d="M2548 475 H2676 A4 4 0 0 1 2680 479 V505 A4 4 0 0 1 2676 509 H2548 Z" fill="#9c27b0"/>
<text x="2565.2" y="499.8" font-size="24" fill="#fff" textLength="102.4" lengthAdjust="spacing" stroke="#fff" stroke-width="0.35">3,464.26</text>
<path d="M2548 510 H2676 A4 4 0 0 1 2680 514 V567 A4 4 0 0 1 2676 571 H2548 Z" fill="#089981"/>
<text x="2565.2" y="533.4" font-size="24" fill="#fff" textLength="102.4" lengthAdjust="spacing" stroke="#fff" stroke-width="0.35">3,461.39</text>
<text x="2565.2" y="561.2" font-size="24" fill="rgba(255,255,255,0.75)" textLength="63.0" lengthAdjust="spacing" stroke="rgba(255,255,255,0.75)" stroke-width="0.35">53:11</text>
<path d="M2548 817 H2676 A4 4 0 0 1 2680 821 V847 A4 4 0 0 1 2676 851 H2548 Z" fill="#9c27b0"/>
<text x="2565.2" y="840.8" font-size="24" fill="#fff" textLength="102.4" lengthAdjust="spacing" stroke="#fff" stroke-width="0.35">3,364.70</text>
<path d="M2548 1069 H2658 A4 4 0 0 1 2662 1073 V1099 A4 4 0 0 1 2658 1103 H2548 Z" fill="#ff9850"/>
<text x="2565.8" y="1094.0" font-size="24" fill="#000" textLength="84.2" lengthAdjust="spacing" stroke="#000" stroke-width="0.35">21.54 K</text>
<path d="M2548 1133 H2642 A4 4 0 0 1 2646 1137 V1163 A4 4 0 0 1 2642 1167 H2548 Z" fill="#26a69a"/>
<text x="2565.1" y="1158.6" font-size="24" fill="#fff" textLength="69.7" lengthAdjust="spacing" stroke="#fff" stroke-width="0.35">4.72 K</text>
<g id="logo" fill="#0f0f0f">
<path d="M24.2 1270 H47.8 V1300 H35.8 V1281.8 H24.2 Z"/>
<circle cx="58.3" cy="1276.1" r="6"/>
<path d="M70.4 1270 H83.8 L71.7 1300 H58.3 Z"/>
</g>
<text x="98.3" y="1300.0" font-size="42" fill="#0f0f0f" textLength="241.3" lengthAdjust="spacing" font-weight="bold">TradingView</text>
</svg>
</body></html>
